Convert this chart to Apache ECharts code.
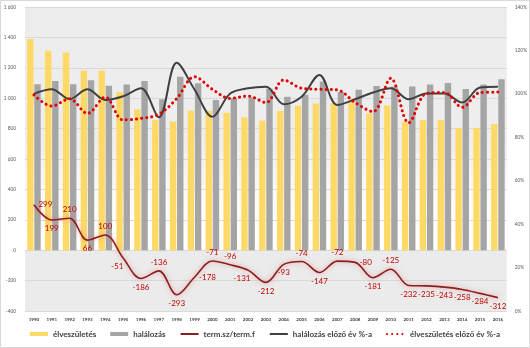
<!DOCTYPE html>
<html><head><meta charset="utf-8">
<script src="https://cdn.jsdelivr.net/npm/echarts@6/dist/echarts.min.js"></script>
<style>html,body{margin:0;padding:0;background:#fff}#c{width:530px;height:348px}</style>
</head><body><div id="c"></div>
<script>
const years = ['1990','1991','1992','1993','1994','1995','1996','1997','1998','1999','2000','2001','2002','2003','2004','2005','2006','2007','2008','2009','2010','2011','2012','2013','2014','2015','2016'];
const births = [1390,1312,1300,1183,1182,1040,928,857,846,918,916,904,875,852,916,950,965,968,976,900,952,845,856,857,803,805,830];
const deaths = [1091,1113,1091,1118,1082,1090,1113,993,1141,1098,988,1000,1005,1062,1010,1022,1110,1040,1055,1080,1077,1077,1090,1100,1060,1090,1125];
const natural = [299,199,210,66,100,-51,-186,-136,-293,-178,-71,-96,-131,-212,-93,-74,-147,-72,-80,-181,-125,-232,-235,-243,-258,-284,-312];
const deathPct = [100,102.1,97.6,102.1,97.2,98.9,102.6,89.2,114.3,102,89.5,100.2,102.6,103.3,95.2,98.7,108.7,94.9,97.5,100.6,102.6,97.5,100.2,100.2,96,102.9,103.3];
const birthPct = [99.5,94.4,97.7,91,98.5,88,88.7,90.6,97.8,107.9,102.1,97.9,99,96,106.4,102.6,102.1,101.8,96,91.8,107.2,86.7,100.2,100.6,93.8,100.6,100.8];
const leftTicks = {min:-400, max:1600, step:200};
const rightTicks = {min:0, max:140, step:20};

const labelPlace = ['right','bottom','top','bottom','top','bottomLeft','bottom','top','bottom','right','top','top','bottomLeft','bottom','bottom','top','bottom','top','right','bottom','top','bottom','bottom','bottom','bottom','bottom','bottom'];
const netData = natural.map((v,i)=>{
  let p = labelPlace[i], off=[0,0];
  if (p==='bottomLeft'){p='bottom'; off=[-6,0];}
  return {value:v, label:{position:p, offset:off}};
});

const font = 'Lato, "Noto Sans", sans-serif';
const chart = echarts.init(document.getElementById('c'), null, {renderer:'canvas'});
chart.setOption({
  animation:false,
  backgroundColor:'#fff',
  graphic:[{type:'rect', shape:{x:0.5,y:0.5,width:529,height:347}, style:{fill:'none', stroke:'#d9d9d9', lineWidth:1}, silent:true}],
  grid:{left:25, right:23, top:7, bottom:37, show:true, borderWidth:0,
    backgroundColor:new echarts.graphic.LinearGradient(0,0,0,1,[
      {offset:0,color:'#ececec'},{offset:0.45,color:'#eeeeee'},{offset:0.66,color:'#fdfdfd'},
      {offset:0.8,color:'#ffffff'},{offset:0.8,color:'#ebebeb'},{offset:1,color:'#ebebeb'}])},
  legend:{bottom:5, left:'center', itemGap:14, itemWidth:18, itemHeight:4, itemTextGap:3,
    textStyle:{fontFamily:font, fontSize:8, color:'#404040', fontWeight:'bold'},
    data:[
      {name:'élveszületés', icon:'rect'},
      {name:'halálozás', icon:'rect'},
      {name:'term.sz/term.f', itemStyle:{opacity:0}},
      {name:'halálozás előző év %-a', itemStyle:{opacity:0}},
      {name:'élveszületés előző év %-a', itemStyle:{opacity:0}}
    ]},
  xAxis:{type:'category', data:years, axisLine:{show:false, onZero:false}, axisTick:{show:false},
    axisLabel:{fontFamily:font, fontSize:4.5, color:'#404040', fontWeight:'bold', margin:6, interval:0}},
  yAxis:[
    {type:'value', min:leftTicks.min, max:leftTicks.max, interval:leftTicks.step,
     axisLine:{show:false}, axisTick:{show:false},
     splitLine:{lineStyle:{color:'#d9d9d9', width:1}},
     axisLabel:{fontFamily:font, fontSize:4.8, color:'#595959', margin:9,
       formatter:v=>{const s=String(Math.abs(v)); const t=s.length>3? s.slice(0,-3)+' '+s.slice(-3):s; return (v<0?'-':'')+t;}}},
    {type:'value', min:rightTicks.min, max:rightTicks.max, interval:rightTicks.step,
     axisLine:{show:false}, axisTick:{show:false}, splitLine:{show:false},
     axisLabel:{fontFamily:font, fontSize:4.8, color:'#595959', margin:8, formatter:'{value}%'}}
  ],
  series:[
    {name:'élveszületés', type:'bar', data:births, itemStyle:{color:'#FFD966'}, barGap:'12%', barCategoryGap:'24%', z:2},
    {name:'halálozás', type:'bar', data:deaths, itemStyle:{color:'#A5A5A5'}, z:2},
    {name:'term.sz/term.f', type:'line', data:netData, smooth:0.35, symbol:'circle', symbolSize:1, showSymbol:true, z:5,
     lineStyle:{color:'#8B1E1E', width:1.6, shadowColor:'rgba(230,110,110,0.7)', shadowBlur:5},
     itemStyle:{color:'rgba(0,0,0,0)'},
     label:{show:true, fontFamily:font, fontSize:8, color:'#C00000', distance:4}},
    {name:'halálozás előző év %-a', type:'line', yAxisIndex:1, data:deathPct, smooth:0.35, symbol:'none', z:4,
     lineStyle:{color:'#404040', width:2}, itemStyle:{color:'#404040'}},
    {name:'élveszületés előző év %-a', type:'line', yAxisIndex:1, data:birthPct, smooth:0.35, symbol:'none', z:4,
     lineStyle:{color:'#E00000', width:3, type:[0.1,5], cap:'round'}, itemStyle:{color:'#E00000'}}
  ]
});
</script></body></html>
